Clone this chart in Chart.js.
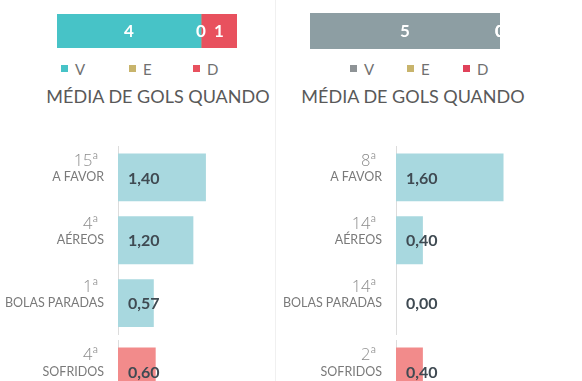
<!DOCTYPE html>
<html>
<head>
<meta charset="utf-8">
<script src="https://cdn.jsdelivr.net/npm/chart.js@4/dist/chart.umd.min.js"></script>
<style>
  html, body { margin:0; padding:0; background:#ffffff; }
  body { width:582px; height:381px; overflow:hidden; position:relative; font-family:Lato, "Open Sans", sans-serif; }
  .box { position:absolute; }
  .divider { position:absolute; left:275px; top:0; width:1px; height:381px; background:#f0f0f0; }
  .title { position:absolute; top:85px; height:22px; line-height:22px; font-size:18px; color:#595959; text-align:center; white-space:nowrap; font-family:Lato, sans-serif; }
  .leg { position:absolute; top:60px; height:18px; line-height:18px; font-size:15px; color:#707070; font-family:Lato, sans-serif; }
  .leg i { position:absolute; left:0; top:5px; width:7px; height:7px; }
  .leg span { position:absolute; left:14px; top:0; }
</style>
</head>
<body>
<div class="divider"></div>

<div class="box" style="left:0;top:0;width:290px;height:60px;"><canvas id="topL" width="290" height="60"></canvas></div>
<div class="box" style="left:291px;top:0;width:230px;height:60px;"><canvas id="topR" width="230" height="60"></canvas></div>

<div id="legL"></div>
<div id="legR"></div>

<div class="title" id="titleL" style="left:0;width:316px;"></div>
<div class="title" id="titleR" style="left:291px;width:244px;"></div>

<div class="box" style="left:0;top:130px;width:275px;height:212px;"><canvas id="botL1" width="275" height="212"></canvas></div>
<div class="box" style="left:0;top:330px;width:275px;height:81px;"><canvas id="botL2" width="275" height="81"></canvas></div>
<div class="box" style="left:278px;top:130px;width:286px;height:212px;"><canvas id="botR1" width="286" height="212"></canvas></div>
<div class="box" style="left:278px;top:330px;width:286px;height:81px;"><canvas id="botR2" width="286" height="81"></canvas></div>

<script>
// ---------- data ----------
const titleText = 'MÉDIA DE GOLS QUANDO';
const resultLabels = ['V', 'E', 'D'];
const resultsLeft = [4, 0, 1];
const resultsRight = [5, 0, 0];
const categories = ['A FAVOR', 'AÉREOS', 'BOLAS PARADAS', 'SOFRIDOS'];
const ranksLeft = ['15ª', '4ª', '1ª', '4ª'];
const valuesLeft = [1.40, 1.20, 0.57, 0.60];
const ranksRight = ['8ª', '14ª', '14ª', '2ª'];
const valuesRight = [1.60, 0.40, 0.00, 0.40];

// ---------- styles ----------
const FONT = 'Lato, "Open Sans", sans-serif';
const RANK_FONT = '"Open Sans", Lato, sans-serif';
const colorsLeft = ['#47c3c7', '#c8b46c', '#e8515e'];
const colorsRight = ['#8d9ea3', '#c8b46c', '#e0425a'];
const legendColorsRight = ['#8e9396', '#c8b46c', '#e0425a'];
const barBlue = '#a8d8df';
const barRed = '#f28b8b';

document.getElementById('titleL').textContent = titleText;
document.getElementById('titleR').textContent = titleText;

function buildLegend(id, xs, colors) {
  const host = document.getElementById(id);
  resultLabels.forEach((lab, i) => {
    const d = document.createElement('div');
    d.className = 'leg';
    d.style.left = xs[i] + 'px';
    d.style.width = '30px';
    const sq = document.createElement('i');
    sq.style.background = colors[i];
    const t = document.createElement('span');
    t.textContent = lab;
    d.appendChild(sq); d.appendChild(t);
    host.appendChild(d);
  });
}
buildLegend('legL', [61, 129, 193], colorsLeft);
buildLegend('legR', [350, 407, 463], legendColorsRight);

// ---------- top stacked bars ----------
const stackLabelPlugin = {
  id: 'stackLabels',
  afterDatasetsDraw(chart) {
    const ctx = chart.ctx;
    ctx.save();
    ctx.font = 'bold 17px ' + FONT;
    ctx.fillStyle = '#ffffff';
    ctx.textAlign = 'center';
    ctx.textBaseline = 'middle';
    chart.data.datasets.forEach((ds, di) => {
      const meta = chart.getDatasetMeta(di);
      meta.data.forEach((el, i) => {
        const cx = (el.x + el.base) / 2;
        ctx.fillText(String(ds.data[i]), cx, el.y + 1);
      });
    });
    ctx.restore();
  }
};

function topChart(id, values, colors, pad) {
  new Chart(document.getElementById(id), {
    type: 'bar',
    data: {
      labels: [''],
      datasets: resultLabels.map((lab, i) => ({
        label: lab,
        data: [values[i]],
        backgroundColor: colors[i],
        borderWidth: 0,
        barPercentage: 1,
        categoryPercentage: 1
      }))
    },
    options: {
      indexAxis: 'y',
      responsive: false,
      animation: false,
      layout: { padding: pad },
      plugins: { legend: { display: false }, tooltip: { enabled: false } },
      scales: {
        x: { stacked: true, display: false, min: 0, max: values.reduce((a, b) => a + b, 0) },
        y: { stacked: true, display: false }
      }
    },
    plugins: [stackLabelPlugin]
  });
}
topChart('topL', resultsLeft, colorsLeft, { left: 57, right: 53, top: 14, bottom: 12 });
topChart('topR', resultsRight, colorsRight, { left: 19, right: 21, top: 13, bottom: 11 });

// ---------- bottom bars ----------
function fmt(v) { return v.toFixed(2).replace('.', ','); }

function rankValuePlugin(ranks, values) {
  return {
    id: 'rankValue',
    afterDatasetsDraw(chart) {
      const ctx = chart.ctx;
      const ys = chart.scales.y, xs = chart.scales.x;
      ctx.save();
      // ranks above category names
      ctx.font = '300 16.5px ' + RANK_FONT;
      ctx.fillStyle = '#8c8c8c';
      ctx.textAlign = 'right';
      ctx.textBaseline = 'middle';
      ys.ticks.forEach((t, i) => {
        const y = ys.getPixelForTick(i);
        ctx.fillText(ranks[i], ys.right - 20, y - 16);
      });
      // values inside bars
      ctx.font = 'bold 16px ' + FONT;
      ctx.fillStyle = '#3f4a52';
      ctx.textAlign = 'left';
      values.forEach((v, i) => {
        const y = ys.getPixelForValue(i);
        ctx.fillText(fmt(v), xs.getPixelForValue(0) + 10, y + 1);
      });
      ctx.restore();
    }
  };
}

function bottomChart(id, cats, ranks, values, colors, pad) {
  new Chart(document.getElementById(id), {
    type: 'bar',
    data: {
      labels: cats,
      datasets: [{
        data: values,
        backgroundColor: colors,
        borderWidth: 0,
        barPercentage: 0.76,
        categoryPercentage: 1
      }]
    },
    options: {
      indexAxis: 'y',
      responsive: false,
      animation: false,
      layout: { padding: pad },
      plugins: { legend: { display: false }, tooltip: { enabled: false } },
      scales: {
        x: { display: false, min: 0, max: 2.5 },
        y: {
          afterFit(scale) { scale.width = 118; },
          grid: { display: false, drawTicks: true, tickLength: 14 },
          border: { display: true, color: '#dcdcdc', width: 1 },
          ticks: { padding: 0, color: '#7a7a7a', font: { family: FONT, size: 12.5 } }
        }
      }
    },
    plugins: [rankValuePlugin(ranks, values)]
  });
}

const n1 = 3;
bottomChart('botL1', categories.slice(0, n1), ranksLeft.slice(0, n1), valuesLeft.slice(0, n1),
  [barBlue, barBlue, barBlue], { top: 16, bottom: 7.5, left: 0, right: 0 });
bottomChart('botL2', categories.slice(n1), ranksLeft.slice(n1), valuesLeft.slice(n1),
  [barRed], { top: 10, bottom: 8, left: 0, right: 0 });
bottomChart('botR1', categories.slice(0, n1), ranksRight.slice(0, n1), valuesRight.slice(0, n1),
  [barBlue, barBlue, barBlue], { top: 16, bottom: 7.5, left: 0, right: 0 });
bottomChart('botR2', categories.slice(n1), ranksRight.slice(n1), valuesRight.slice(n1),
  [barRed], { top: 10, bottom: 8, left: 0, right: 0 });
</script>
</body>
</html>
